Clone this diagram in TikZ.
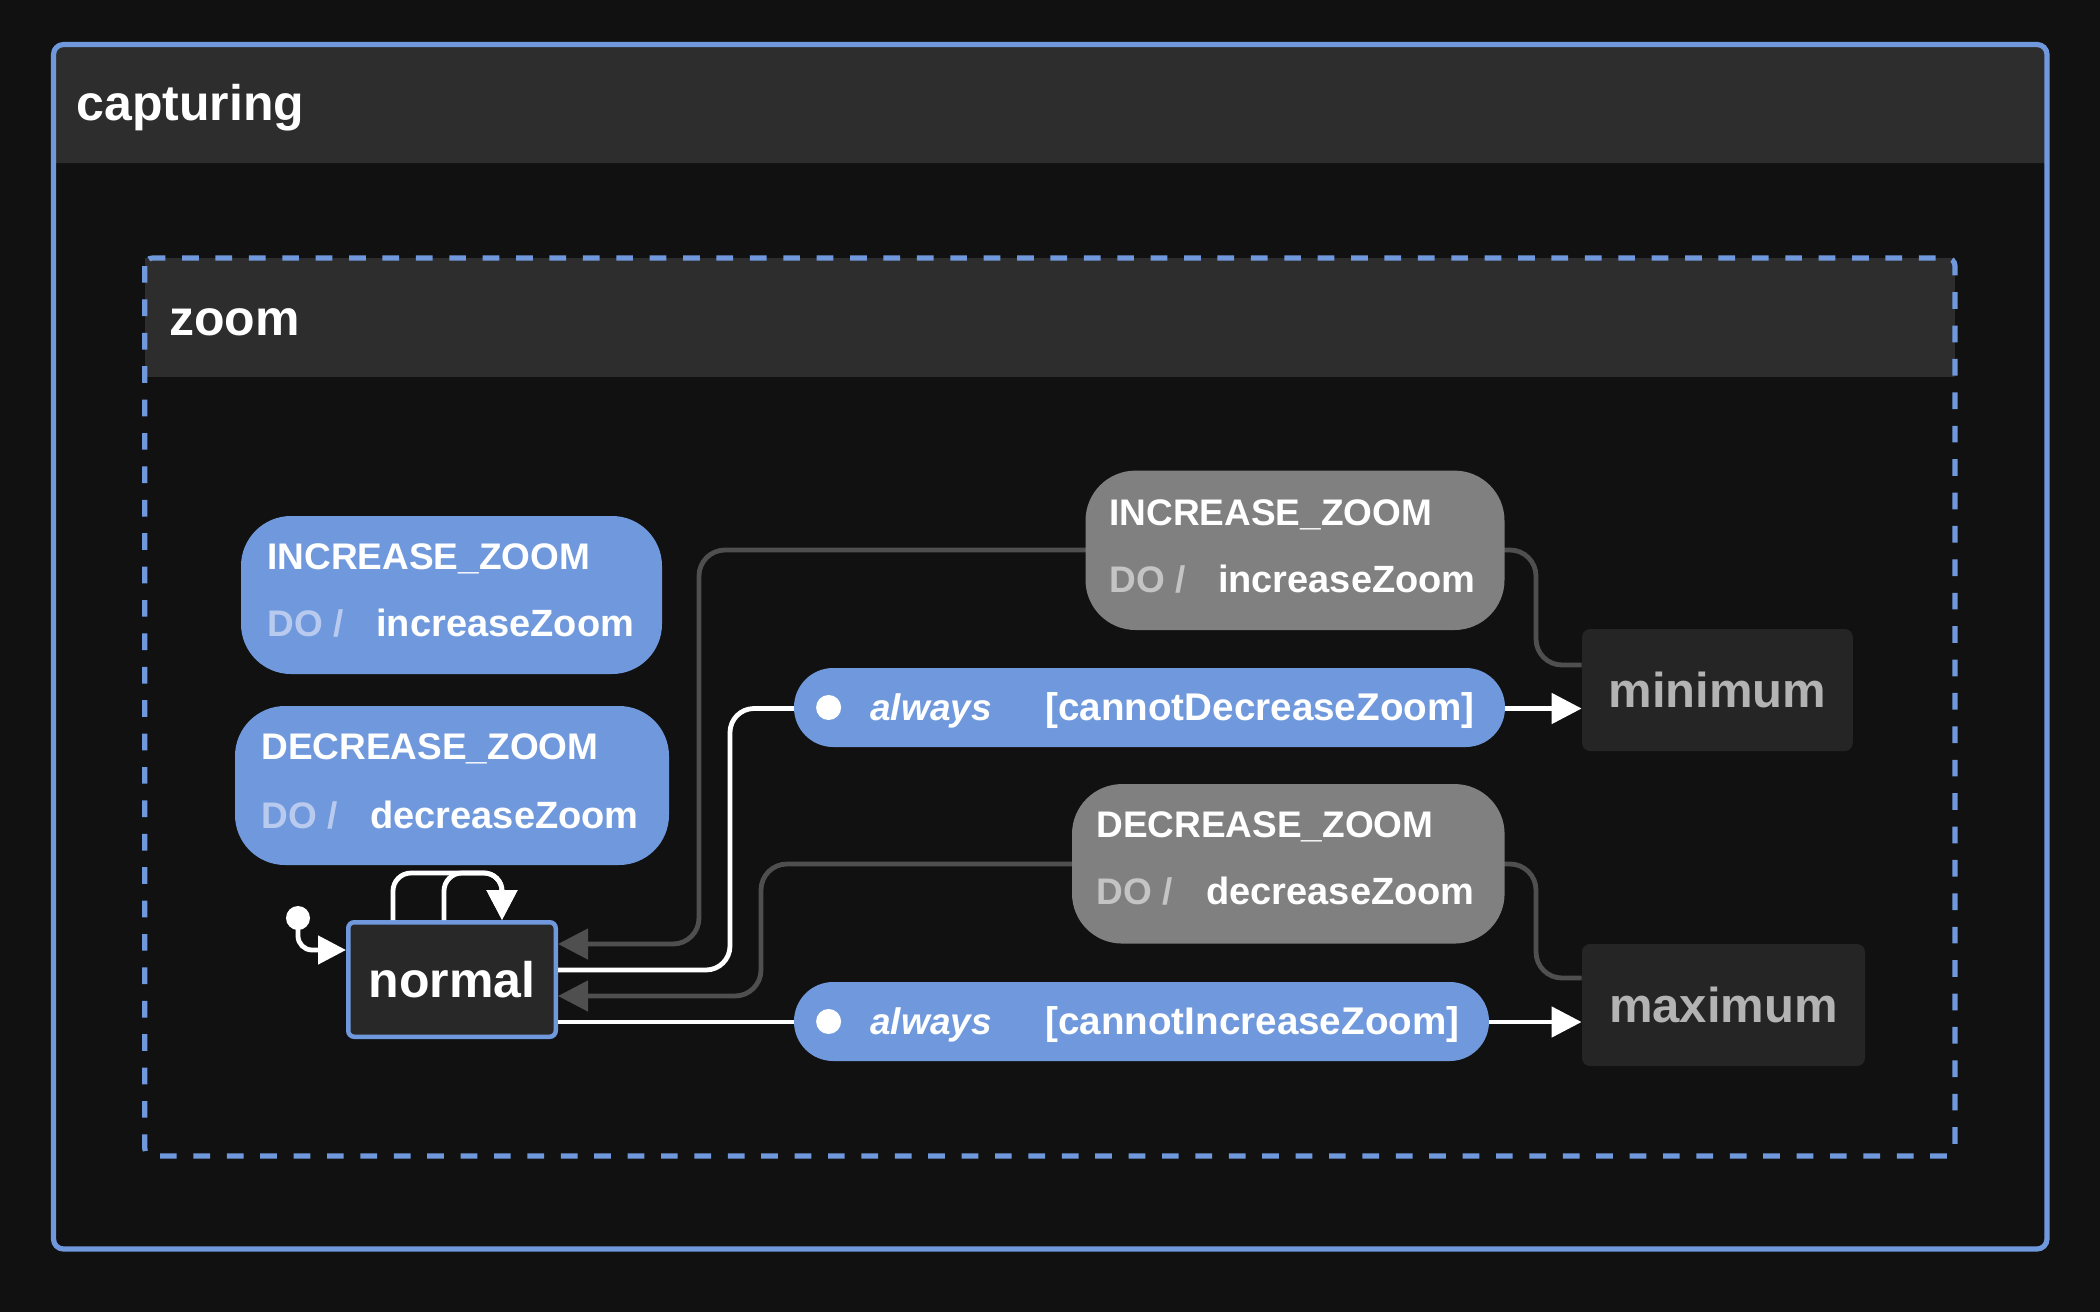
\documentclass[tikz,border=0pt]{standalone}
\usepackage{fontspec}
\setmainfont{Liberation Sans}
\usetikzlibrary{arrows.meta}
\definecolor{bgc}{HTML}{111111}
\definecolor{hdr}{HTML}{2D2D2D}
\definecolor{blu}{HTML}{7099DD}
\definecolor{gbox}{HTML}{808080}
\definecolor{gline}{HTML}{4F4F4F}
\definecolor{dkbox}{HTML}{252525}
\definecolor{nbox}{HTML}{282828}
\definecolor{dotext}{HTML}{B8CBEF}
\definecolor{dogray}{HTML}{C4C4C4}
\definecolor{dimtext}{HTML}{B3B3B3}
\begin{document}
\begin{tikzpicture}[x=0.5pt,y=-0.5pt,
  lblbox/.style={rectangle, rounded corners=25pt, inner sep=0pt, outer sep=0pt},
  bluebox/.style={lblbox, fill=blu},
  graybox/.style={lblbox, fill=gbox},
  pill/.style={rectangle, rounded corners=19.6pt, inner sep=0pt, outer sep=0pt, fill=blu},
  statebox/.style={rectangle, rounded corners=4pt, inner sep=0pt, fill=dkbox, text=dimtext, font=\fontsize{24.5pt}{29pt}\selectfont\bfseries},
  hdrtext/.style={anchor=base west, inner sep=0pt, text=white, font=\fontsize{25pt}{30pt}\selectfont\bfseries},
  evtext/.style={anchor=base west, inner sep=0pt, text=white, font=\fontsize{18.5pt}{22pt}\selectfont\bfseries},
  acttext/.style={anchor=base west, inner sep=0pt, text=white, font=\fontsize{19pt}{22pt}\selectfont\bfseries},
  dotxt/.style={anchor=base west, inner sep=0pt, text=dotext, font=\fontsize{18.5pt}{22pt}\selectfont\bfseries},
  dogtxt/.style={dotxt, text=dogray},
  alwtext/.style={anchor=base west, inner sep=0pt, text=white, font=\fontsize{18.5pt}{22pt}\selectfont\bfseries\itshape},
  grdtext/.style={anchor=base west, inner sep=0pt, text=white, font=\fontsize{19.3pt}{22pt}\selectfont\bfseries},
  wdot/.style={circle, fill=white, inner sep=0pt},
  wconn/.style={draw=white, line width=2.4pt, rounded corners=12pt, -{Triangle[length=15pt,width=15pt]}},
  gconn/.style={draw=gline, line width=2.4pt, rounded corners=13pt, -{Triangle[length=15pt,width=15pt]}}
]
\fill[bgc] (0,0) rectangle (2100,1312);
\useasboundingbox (0,0) rectangle (2100,1312);

% capturing frame
\fill[hdr] (53.5,163) [rounded corners=5pt] -- (53.5,44.5) -- (2047,44.5) [sharp corners] -- (2047,163) -- cycle;
\draw[blu, line width=2.6pt, rounded corners=5pt] (53.5,44.5) rectangle (2047,1249);
\node[hdrtext] (capt) at (76,120.7) {capturing};

% zoom frame
\fill[hdr] (144.7,258) rectangle (1955,377);
\draw[blu, line width=2.6pt, dash pattern=on 8.35pt off 8.35pt, rounded corners=4pt] (144.7,258) rectangle (1955,1156);
\node[hdrtext] (zoomt) at (169,335) {zoom};

% state nodes
\node[rectangle, rounded corners=3pt, draw=blu, line width=2.25pt, fill=nbox, minimum width=103.75pt, minimum height=57.25pt, inner sep=0pt, text=white, font=\fontsize{25pt}{30pt}\selectfont\bfseries] (normal) at (452,979.5) {normal};
\node[statebox, minimum width=135.35pt, minimum height=61pt] (minimum) at (1717.4,690) {minimum};
\node[statebox, minimum width=141.5pt, minimum height=61pt] (maximum) at (1723.5,1005) {maximum};
\node[wdot, minimum size=12pt] (init) at (298,918) {};

% connectors (behind labels)
\draw[gconn] ([yshift=12.5pt]minimum.west) -- (1536,665) -- (1536,550) -- (699,550) -- (699,944) -- ([yshift=17.75pt]normal.east);
\draw[gconn] ([yshift=13.5pt]maximum.west) -- (1536,978) -- (1536,864) -- (761,864) -- (761,996) -- ([yshift=-8.25pt]normal.east);
\draw[wconn] ([yshift=4.75pt]normal.east) -- (730,970) -- (730,708.5) -- ([yshift=-9.25pt]minimum.west);
\draw[wconn] ([yshift=-21.25pt]normal.east) -- ([yshift=-8.5pt]maximum.west);
\draw[wconn, rounded corners=9pt] ([xshift=-29.5pt]normal.north) |- (502,873) -- ([xshift=25pt]normal.north);
\draw[wconn, rounded corners=9pt] ([xshift=-4pt]normal.north) |- (502,873) -- ([xshift=25pt]normal.north);
\draw[wconn, rounded corners=7pt, -{Triangle[length=14pt,width=14pt]}] (init.center) |- ([yshift=14.75pt]normal.west);

% blue action labels (left)
\node[bluebox, minimum width=210.5pt, minimum height=79pt] (inc) at (451.5,595) {};
\node[evtext] (incev) at (267,569) {INCREASE\_ZOOM};
\node[dotxt] (incdo) at (267,636) {DO /};
\node[acttext] (incact) at (376,636) {increaseZoom};

\node[bluebox, minimum width=217pt, minimum height=79.5pt] (dec) at (452,785.5) {};
\node[evtext] (decev) at (261,759) {DECREASE\_ZOOM};
\node[dotxt] (decdo) at (261,828) {DO /};
\node[acttext] (decact) at (370,828) {decreaseZoom};

% gray transition labels
\node[graybox, minimum width=209.5pt, minimum height=79.7pt] (ginc) at (1295,550.3) {};
\node[evtext] (gincev) at (1109,525) {INCREASE\_ZOOM};
\node[dogtxt] (gincdo) at (1109,592) {DO /};
\node[acttext] (gincact) at (1217.6,592) {increaseZoom};

\node[graybox, minimum width=216.3pt, minimum height=79.75pt] (gdec) at (1288.3,863.8) {};
\node[evtext] (gdecev) at (1096,837.5) {DECREASE\_ZOOM};
\node[dogtxt] (gdecdo) at (1096,904.7) {DO /};
\node[acttext] (gdecact) at (1206,904.7) {decreaseZoom};

% always pills
\node[pill, minimum width=355.5pt, minimum height=39.5pt] (pa) at (1149.5,707.5) {};
\node[wdot, minimum size=12.5pt] (pad) at (828.6,707.5) {};
\node[alwtext] (paal) at (870,720.5) {always};
\node[grdtext] (pagd) at (1045,720.5) {[cannotDecreaseZoom]};

\node[pill, minimum width=347.5pt, minimum height=39.5pt] (pb) at (1141.5,1021.5) {};
\node[wdot, minimum size=12.5pt] (pbd) at (828.6,1021.5) {};
\node[alwtext] (pbal) at (870,1034.5) {always};
\node[grdtext] (pbgd) at (1045,1034.5) {[cannotIncreaseZoom]};
\end{tikzpicture}
\end{document}
